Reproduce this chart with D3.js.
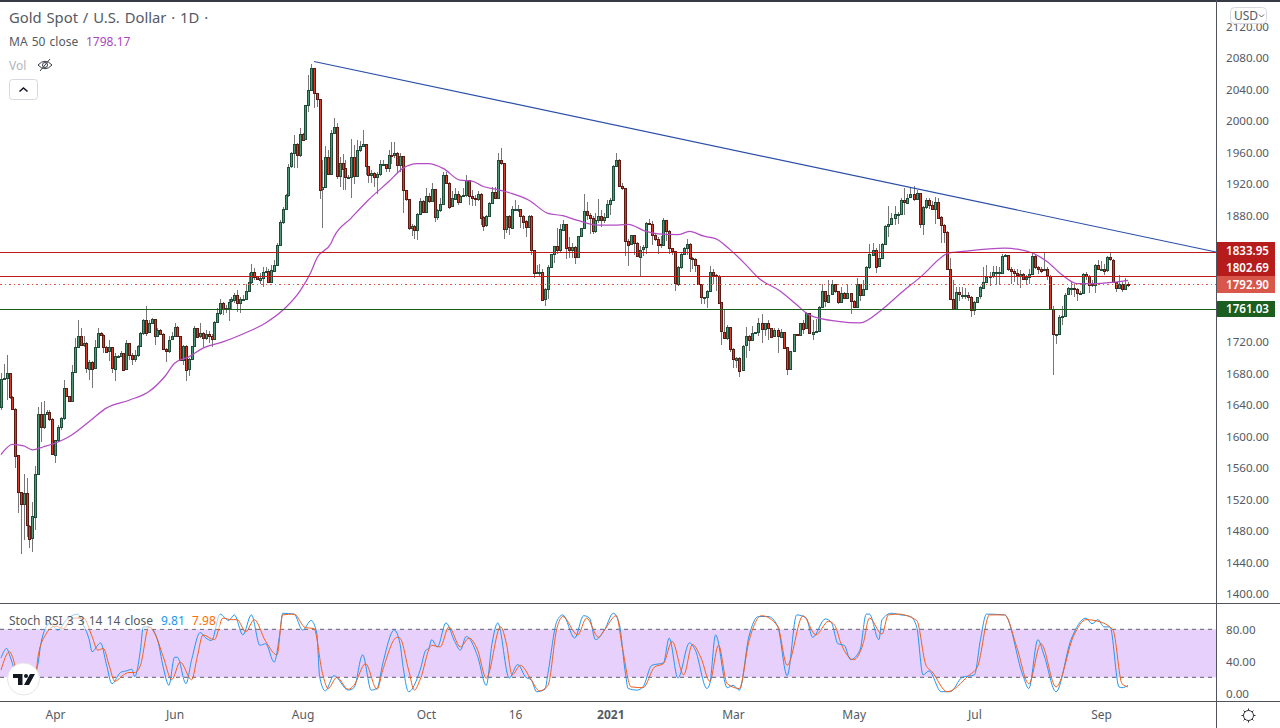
<!DOCTYPE html>
<html>
<head>
<meta charset="utf-8">
<title>Gold Spot / U.S. Dollar</title>
<script src="https://cdn.jsdelivr.net/npm/d3@7"></script>
<style>
  html, body { margin: 0; padding: 0; background: #fff; }
  svg { display: block; font-family: "Noto Sans", sans-serif; }
</style>
</head>
<body>
<svg width="1280" height="728"></svg>
<script>
// daily candles; each open is the previous close
const firstOpen = 1637;
const closes = [
  1673,1674,1680,1650,1635,1576,1529,1514,1528,1487,
  1471,1499,1553,1629,1612,1629,1631,1622,1577,1596,
  1612,1623,1661,1651,1645,1682,1714,1728,1716,1718,
  1686,1695,1686,1713,1731,1729,1714,1708,1713,1686,
  1702,1702,1706,1685,1718,1703,1698,1703,1715,1731,
  1748,1732,1744,1749,1727,1735,1730,1711,1709,1723,
  1727,1739,1727,1697,1715,1685,1698,1715,1738,1727,
  1731,1725,1730,1727,1723,1745,1756,1769,1762,1763,
  1771,1774,1780,1770,1775,1775,1785,1796,1809,1803,
  1799,1801,1809,1810,1796,1811,1818,1843,
  1872,1888,1906,1942,1959,1971,1957,1984,1977,2020,2039,2067,2035,2028,1913,1916,1954,1933,
  1985,1992,1930,1947,1940,1929,1929,1954,1930,1963,
  1968,1971,1943,1932,1934,1929,1933,1946,1946,1941,
  1957,1956,1959,1944,1956,1913,1901,1864,1867,1862,
  1882,1899,1885,1905,1899,1914,1878,1887,1895,1932,
  1922,1892,1902,1908,1898,1905,1906,1925,1905,1903,
  1902,1908,1878,1867,1879,1896,1910,1903,1951,1947,
  1863,1879,1865,1889,1889,1889,1880,1873,1866,1880,
  1837,1808,1808,1809,1774,1787,1815,1831,1841,1836,
  1863,1870,1840,1836,1840,1827,1854,1864,1886,1881,
  1877,1860,1874,1879,1874,1878,1895,1900,1943,1951,
  1918,1915,1848,1843,1855,1845,1828,1837,1840,1871,
  1870,1856,1851,1844,1843,1875,1861,1839,1835,1794,
  1815,1832,1839,1844,1826,1825,1818,1794,1777,1777,
  1785,1809,1805,1804,1770,1733,1725,1739,1711,1698,
  1700,1684,1715,1727,1722,1731,1732,1744,1737,1744,
  1738,1727,1735,1727,1733,1713,1685,1708,1730,1729,
  1744,1737,1756,1731,1733,1734,1764,1784,1771,1780,
  1793,1784,1770,1782,1776,1782,1772,1764,1793,1779,
  1787,1815,1831,1837,1816,1826,1844,1867,1870,1877,
  1882,1882,1900,1897,1903,1907,1901,1909,1870,1891,
  1900,1894,1889,1898,1878,1868,
  1859,1812,1774,1761,1783,1780,1780,1780,1777,1761,
  1771,1777,1789,1796,1802,1803,1808,1808,1808,1829,
  1830,1812,1810,1807,1804,1806,1800,1802,1806,1829,
  1815,1813,1811,1812,1804,1762,1730,1730,1752,1753,
  1780,1788,1788,1787,1782,1782,1806,1804,1792,1793,
  1818,1813,1813,1810,1827,1824,1796,1789,1794,1788,
  1794,1793
];
const highs = [
  1680,1692,1703,1680,1651,1636,1575,1530,1553,1547,
  1488,1517,1562,1638,1644,1645,1634,1634,1623,1596,
  1615,1625,1672,1661,1651,1691,1725,1748,1738,1727,
  1720,1697,1696,1722,1738,1732,1730,1715,1722,1714,
  1706,1703,1708,1706,1723,1718,1706,1710,1716,1732,
  1749,1766,1748,1750,1749,1738,1736,1731,1712,1727,
  1732,1744,1740,1727,1716,1716,1699,1715,1740,1738,
  1744,1732,1735,1734,1730,1746,1763,1775,1770,1767,
  1775,1777,1782,1786,1777,1779,1794,1807,1819,1814,
  1804,1807,1815,1815,1812,1818,1824,1845,
  1875,1891,1908,1946,1961,1982,1972,1991,1985,2020,2058,2073,2067,2035,2028,1951,1968,1963,
  1989,2004,1997,1955,1958,1951,1932,1977,1970,1976,
  1975,1989,1971,1943,1938,1935,1936,1951,1951,1946,
  1963,1974,1974,1961,1960,1956,1913,1901,1870,1868,
  1883,1902,1900,1915,1909,1921,1914,1889,1902,1935,
  1935,1923,1911,1915,1911,1906,1915,1932,1925,1913,
  1906,1911,1909,1879,1881,1897,1917,1917,1960,1966,
  1947,1880,1881,1892,1900,1894,1889,1881,1875,1881,
  1881,1837,1818,1819,1813,1788,1818,1832,1842,1864,
  1870,1875,1870,1853,1845,1841,1854,1865,1908,1898,
  1883,1880,1883,1901,1887,1883,1900,1902,1944,1959,
  1952,1921,1915,1851,1856,1855,1847,1841,1843,1872,
  1876,1873,1858,1853,1854,1877,1873,1862,1839,1835,
  1816,1833,1840,1851,1845,1827,1826,1817,1794,1777,
  1786,1816,1813,1806,1805,1770,1760,1741,1739,1712,
  1701,1701,1716,1739,1729,1740,1733,1750,1755,1744,
  1748,1737,1737,1737,1736,1733,1714,1709,1730,1730,
  1744,1748,1758,1756,1748,1749,1766,1794,1784,1799,
  1799,1793,1784,1790,1783,1792,1782,1773,1801,1793,
  1799,1816,1844,1846,1839,1844,1845,1868,1892,1883,
  1892,1885,1902,1915,1908,1915,1918,1913,1909,1892,
  1902,1902,1899,1904,1902,1879,
  1870,1860,1826,1799,1790,1790,1790,1788,1783,1778,
  1772,1777,1791,1815,1817,1809,1816,1816,1815,1832,
  1832,1830,1815,1813,1812,1811,1807,1805,1812,1833,
  1830,1816,1815,1833,1815,1805,1766,1730,1754,1765,
  1782,1790,1796,1794,1788,1784,1807,1808,1805,1799,
  1819,1824,1822,1819,1829,1833,1825,1796,1805,1796,
  1801,1796
];
const lows = [
  1634,1672,1646,1647,1633,1560,1503,1451,1469,1473,
  1458,1454,1481,1552,1593,1610,1627,1620,1577,1567,
  1593,1608,1621,1650,1644,1644,1682,1712,1715,1714,
  1680,1672,1661,1686,1712,1727,1706,1708,1696,1680,
  1670,1701,1701,1684,1685,1697,1691,1694,1701,1714,
  1729,1727,1731,1743,1716,1726,1729,1710,1694,1706,
  1723,1726,1726,1696,1691,1670,1677,1697,1714,1725,
  1725,1714,1722,1718,1714,1722,1744,1754,1754,1756,
  1747,1760,1769,1758,1757,1773,1774,1784,1794,1799,
  1798,1794,1790,1809,1795,1796,1810,1816,
  1864,1870,1887,1904,1940,1940,1940,1955,1976,1977,2012,2039,2016,2018,1901,1864,1915,1932,
  1944,1984,1927,1916,1913,1912,1927,1902,1920,1929,
  1961,1968,1932,1921,1922,1917,1908,1930,1944,1936,
  1936,1946,1953,1934,1936,1883,1899,1862,1854,1851,
  1849,1881,1883,1884,1896,1898,1872,1875,1885,1894,
  1921,1889,1891,1901,1894,1897,1904,1904,1894,1892,
  1892,1899,1868,1860,1866,1878,1895,1902,1902,1944,
  1851,1858,1856,1864,1887,1885,1865,1863,1853,1864,
  1830,1801,1807,1802,1773,1765,1775,1815,1820,1831,
  1833,1862,1825,1826,1826,1819,1826,1853,1863,1875,
  1857,1857,1858,1871,1866,1871,1877,1881,1899,1942,
  1916,1913,1829,1816,1843,1830,1828,1804,1829,1832,
  1868,1843,1848,1832,1839,1842,1848,1832,1830,1785,
  1791,1813,1830,1830,1809,1812,1809,1792,1768,1768,
  1763,1784,1794,1784,1768,1716,1725,1722,1707,1687,
  1687,1676,1684,1699,1708,1722,1730,1727,1719,1727,
  1722,1726,1726,1706,1726,1712,1678,1684,1708,1728,
  1728,1730,1736,1730,1723,1732,1734,1763,1764,1770,
  1780,1782,1768,1770,1774,1775,1755,1763,1764,1772,
  1778,1786,1813,1830,1807,1815,1825,1843,1853,1868,
  1868,1870,1881,1881,1896,1902,1899,1900,1865,1856,
  1889,1889,1888,1870,1877,1845,
  1845,1811,1773,1761,1761,1772,1774,1774,1772,1751,
  1754,1770,1775,1788,1796,1791,1801,1792,1793,1807,
  1827,1810,1794,1796,1792,1788,1798,1794,1793,1805,
  1812,1806,1807,1810,1799,1761,1678,1717,1729,1742,
  1751,1780,1780,1777,1772,1780,1781,1799,1782,1790,
  1782,1811,1811,1805,1809,1822,1795,1783,1787,1783,
  1786,1789
];

// moving average, read at its bends
const maBars = [0,4,8,11,15,20,24,31,37,45,52,58,61,66,71,78,85,93,99,105,109,111,116,117,123,129,136,141,146,150,155,161,165,169,174,179,185,192,197,202,209,214,219,225,229,236,240,245,249,254,259,263,270,275,279,288,295,302,308,315,321,323,329,342,347,351,356,361,366,372,383];
const maValues = [1577,1590,1588,1583,1587,1593,1600,1619,1636,1646,1657,1678,1693,1701,1712,1720,1730,1744,1760,1784,1809,1826,1845,1853,1877,1900,1923,1940,1946,1946,1940,1925,1924,1917,1913,1908,1900,1883,1880,1874,1868,1868,1869,1860,1857,1856,1860,1854,1851,1837,1818,1801,1784,1767,1754,1746,1744,1761,1782,1805,1827,1832,1835,1839,1837,1833,1822,1805,1794,1794,1798];

// stoch rsi lines, read at their bends
const kBars = [0,2,3,5,9,13,14,17,20,23,27,29,31,32,35,37,39,42,44,46,47,49,50,52,55,57,59,61,62,65,67,70,72,74,77,80,82,85,88,91,93,96,98,99,103,106,109,111,112,114,117,122,124,127,130,132,134,138,140,141,143,147,149,150,151,153,156,159,161,163,164,167,170,172,174,178,181,184,186,188,191,192,195,197,201,204,206,208,211,214,216,218,219,222,224,227,231,233,236,240,242,246,247,249,253,255,257,260,263,266,269,272,275,278,280,284,286,288,290,292,295,297,298,301,302,305,308,311,313,315,317,321,324,328,332,334,336,342,348,350,353,355,359,364,369,371,373,375,377,380,381,383];
const kValues = [44,56,48,27,8,37,62,87,79,92,99,85,67,52,63,37,12,26,28,30,21,54,83,83,67,33,10,45,45,12,42,76,69,66,99,91,98,73,98,60,62,39,75,100,99,79,91,75,21,3,22,4,7,48,4,6,37,79,62,35,2,29,54,56,67,58,88,65,54,71,69,46,10,62,88,19,36,20,17,2,5,25,90,98,69,97,94,67,79,100,87,27,6,4,8,35,38,69,19,63,54,6,12,73,7,10,4,71,96,96,84,22,98,94,70,93,88,62,60,42,54,99,99,67,92,100,98,96,83,23,28,2,2,20,23,67,99,98,23,6,67,48,2,67,94,87,92,83,83,8,7,9.81];
const dBars = [0,3,4,6,12,13,16,19,22,25,29,32,34,36,38,40,43,45,47,49,52,54,57,60,63,67,69,71,75,78,81,83,86,89,93,97,99,103,107,110,113,115,118,122,124,128,132,134,139,140,143,145,147,151,154,157,161,164,167,170,175,177,179,182,186,189,192,195,197,202,205,209,211,215,217,220,224,228,231,234,238,241,244,247,250,253,257,260,264,269,272,277,281,285,287,289,293,296,298,302,304,307,313,316,318,323,330,333,337,342,346,350,354,359,365,369,373,378,381,383];
const dValues = [29,52,46,23,15,46,75,84,81,94,94,71,54,56,35,15,23,26,26,35,83,75,46,17,39,17,46,73,67,94,92,92,77,92,65,48,98,99,82,81,25,6,20,5,10,37,5,29,70,69,29,4,17,60,58,83,58,69,54,19,83,62,23,35,17,3,10,81,96,73,94,70,79,97,58,8,7,33,37,65,23,61,44,15,60,12,6,65,97,84,35,97,73,90,85,62,42,62,94,74,98,99,91,35,27,2,22,33,98,98,58,12,62,8,73,92,90,79,12,7.98];

// levels, labels and ticks
const trendBars = [110, 412];
const trendPrices = [2075.6, 1834];
const levelPrices = [1833.95, 1802.69, 1792.90, 1761.03];
const priceTicks = [2120,2080,2040,2000,1960,1920,1880,1720,1680,1640,1600,1560,1520,1480,1440,1400];
const stochTicks = [80, 40, 0];
const timeBars = [19,61,106,149,180,213,255,293,332,374];
const timeLabels = ['Apr','Jun','Aug','Oct','16','2021','Mar','May','Jul','Sep'];

const svg = d3.select('svg');
const width = +svg.attr('width');
const height = +svg.attr('height');
const plotRight = 1216;

const xScale = d3.scaleLinear()
  .domain([0,97,116,180,190,225,255,282,315,358,383,412])
  .range([1,277,331,515,542,646,733,819,923,1053,1128,plotRight]);
const yScale = d3.scaleLinear().domain([2080, 1400]).range([58, 594.2]);
const stochScale = d3.scaleLinear().domain([0, 100]).range([693.3, 613.3]);

const inkGrey = '#555a63';
const frame = '#50535e';
const green = { fill: '#4d9a74', edge: '#1d4d38' };
const red = { fill: '#dd3a29', edge: '#5c1a12' };

svg.append('rect').attr('width', width).attr('height', height).attr('fill', '#fff');

// ---- stoch pane ----
const band = stochScale(80);
svg.append('rect')
  .attr('x', 0).attr('y', band)
  .attr('width', plotRight).attr('height', stochScale(20) - band)
  .attr('fill', '#e8d0fc');

svg.selectAll('.stochLevel').data([80, 20]).enter().append('line')
  .attr('x1', 0).attr('x2', plotRight)
  .attr('y1', d => stochScale(d)).attr('y2', d => stochScale(d))
  .attr('stroke', '#5d606b').attr('stroke-dasharray', '4 4');

const stochLine = d3.line()
  .x(d => xScale(d[0])).y(d => stochScale(d[1]))
  .curve(d3.curveMonotoneX);

svg.append('path').datum(d3.zip(kBars, kValues))
  .attr('d', stochLine).attr('fill', 'none').attr('stroke', '#2196f3').attr('stroke-width', 1);
svg.append('path').datum(d3.zip(dBars, dValues))
  .attr('d', stochLine).attr('fill', 'none').attr('stroke', '#f4601c').attr('stroke-width', 1);

svg.append('rect').attr('x', 5).attr('y', 612).attr('width', 215).attr('height', 17)
  .attr('fill', '#fff').attr('opacity', 0.55);
const stochLegend = svg.append('text').attr('x', 9).attr('y', 625).attr('font-size', 12).attr('fill', inkGrey);
stochLegend.append('tspan').attr('word-spacing', 1).text('Stoch RSI 3 3 14 14 close');
stochLegend.append('tspan').attr('x', 161).attr('fill', '#2196f3').text('9.81');
stochLegend.append('tspan').attr('x', 192).attr('fill', '#ff6d00').text('7.98');

// logo
const logo = svg.append('g');
logo.append('circle').attr('cx', 23.5).attr('cy', 679).attr('r', 16)
  .attr('fill', '#fff').attr('stroke', '#e4e6ea');
logo.append('path').attr('d', 'M13 674h9.5v11h-4.5v-7h-5z M30 674h5l-6 11h-5z').attr('fill', '#131722');
logo.append('circle').attr('cx', 26).attr('cy', 676).attr('r', 2).attr('fill', '#131722');

// ---- price pane ----
const candles = closes.map((c, i) => ({
  i, close: c, high: highs[i], low: lows[i],
  open: i ? closes[i - 1] : firstOpen
}));
const barX = d => Math.round(xScale(d.i));

svg.append('g').selectAll('line').data(candles).enter().append('line')
  .attr('x1', d => barX(d) + 0.5).attr('x2', d => barX(d) + 0.5)
  .attr('y1', d => yScale(d.high)).attr('y2', d => yScale(d.low))
  .attr('stroke', '#777').attr('shape-rendering', 'crispEdges');

svg.append('g').selectAll('rect').data(candles).enter().append('rect')
  .attr('x', d => barX(d) - 0.5)
  .attr('y', d => Math.round(yScale(Math.max(d.open, d.close))) + 0.5)
  .attr('width', 2)
  .attr('height', d => Math.max(1, Math.round(Math.abs(yScale(d.open) - yScale(d.close)))))
  .attr('fill', d => d.close >= d.open ? green.fill : red.fill)
  .attr('stroke', d => d.close >= d.open ? green.edge : red.edge)
  .attr('shape-rendering', 'crispEdges');

const maLine = d3.line()
  .x(d => xScale(d[0])).y(d => yScale(d[1]))
  .curve(d3.curveMonotoneX);
svg.append('path').datum(d3.zip(maBars, maValues))
  .attr('d', maLine).attr('fill', 'none').attr('stroke', '#b24cc4').attr('stroke-width', 1.25);

svg.append('line')
  .attr('x1', xScale(trendBars[0])).attr('y1', yScale(trendPrices[0]))
  .attr('x2', xScale(trendBars[1])).attr('y2', yScale(trendPrices[1]))
  .attr('stroke', '#2a4fa8').attr('stroke-width', 1.2);

const levelColors = ['#c01a1a', '#c01a1a', '#e0533f', '#1b5e20'];
svg.selectAll('.level').data(levelPrices).enter().append('line')
  .attr('x1', 0).attr('x2', plotRight)
  .attr('y1', d => Math.floor(yScale(d)) + 0.5).attr('y2', d => Math.floor(yScale(d)) + 0.5)
  .attr('stroke', (d, i) => levelColors[i])
  .attr('stroke-dasharray', (d, i) => i === 2 ? '1.5 3' : null)
  .attr('stroke-width', 1)
  .attr('shape-rendering', 'crispEdges');

// ---- axes ----
const priceAxis = d3.axisRight(yScale).tickValues(priceTicks).tickSize(0).tickPadding(0).tickFormat(d3.format('.2f'));
const stochAxis = d3.axisRight(stochScale).tickValues(stochTicks).tickSize(0).tickPadding(0).tickFormat(d3.format('.2f'));
const timeAxis = d3.axisBottom(xScale).tickValues(timeBars).tickSize(0).tickPadding(0)
  .tickFormat((d, i) => timeLabels[i]);

[svg.append('g').attr('transform', `translate(1226,0)`).call(priceAxis),
 svg.append('g').attr('transform', `translate(1226,0)`).call(stochAxis)].forEach(g => {
  g.select('.domain').remove();
  g.selectAll('text').attr('font-size', 11.6).attr('font-family', '"Noto Sans", sans-serif').attr('fill', inkGrey);
});
const timeG = svg.append('g').attr('transform', 'translate(0,710)').call(timeAxis);
timeG.select('.domain').remove();
timeG.selectAll('text').attr('font-size', 12).attr('font-family', '"Noto Sans", sans-serif')
  .attr('fill', inkGrey).attr('font-weight', d => d === 213 ? 700 : 400);

// price labels on the scale
const labelFill = ['#b71c1c', '#b71c1c', '#d9574a', '#1b5e20'];
const labelTop = [242, 260, 276, 301];
const labelH = [18, 16, 17, 16];
levelPrices.forEach((p, i) => {
  svg.append('rect').attr('x', 1217).attr('y', labelTop[i]).attr('width', 58).attr('height', labelH[i])
    .attr('fill', labelFill[i]);
  svg.append('text').attr('x', 1226).attr('y', labelTop[i] + labelH[i] / 2 + 4.3)
    .attr('font-size', 11.6).attr('font-weight', 600).attr('fill', '#fff').text(p.toFixed(2));
});

// frame
svg.append('rect').attr('x', 0).attr('y', 0).attr('width', width).attr('height', 2).attr('fill', '#363a45');
[603.5, 701.5].forEach(y => svg.append('line').attr('x1', 0).attr('x2', width).attr('y1', y).attr('y2', y).attr('stroke', frame));
svg.append('line').attr('x1', plotRight + 0.5).attr('x2', plotRight + 0.5).attr('y1', 0).attr('y2', height).attr('stroke', frame);

// ---- header ----
svg.append('text').attr('x', 9).attr('y', 23).attr('font-size', 14.8).attr('word-spacing', 1).attr('fill', inkGrey)
  .text('Gold Spot / U.S. Dollar · 1D ·');
const maLegend = svg.append('text').attr('x', 9).attr('y', 46).attr('font-size', 12).attr('fill', inkGrey);
maLegend.append('tspan').attr('word-spacing', 1).text('MA 50 close');
maLegend.append('tspan').attr('x', 86).attr('fill', '#ab47bc').text('1798.17');
svg.append('text').attr('x', 9).attr('y', 70).attr('font-size', 12).attr('fill', '#b2b5be').text('Vol');

const eye = svg.append('g').attr('transform', 'translate(45,65)').attr('fill', 'none').attr('stroke', '#3a3d45');
eye.append('path').attr('d', 'M-7 0Q0 -7.5 7 0Q0 7.5 -7 0Z');
eye.append('circle').attr('r', 2.5);
eye.append('line').attr('x1', -5).attr('y1', 6).attr('x2', 5).attr('y2', -6);

svg.append('rect').attr('x', 9.5).attr('y', 79.5).attr('width', 28).attr('height', 20).attr('rx', 3)
  .attr('fill', '#fff').attr('stroke', '#d6d8e0');
svg.append('path').attr('d', 'M19.5 91.5l4 -3.5l4 3.5').attr('fill', 'none').attr('stroke', '#131722').attr('stroke-width', 1.6);

// currency button
svg.append('rect').attr('x', 1230.5).attr('y', 7.5).attr('width', 36).attr('height', 16).attr('rx', 4)
  .attr('fill', '#fff').attr('stroke', '#d6d8e0');
svg.append('text').attr('x', 1234).attr('y', 20).attr('font-size', 12).attr('fill', inkGrey).text('USD');
svg.append('path').attr('d', 'M1259 14.5l2.5 2.5l2.5 -2.5').attr('fill', 'none').attr('stroke', inkGrey);

// settings gear
const gear = svg.append('g').attr('transform', 'translate(1248.5,715.5)').attr('stroke', '#2a2e39').attr('fill', 'none');
gear.append('circle').attr('r', 5);
d3.range(8).forEach(k => {
  const a = k * Math.PI / 4;
  gear.append('line').attr('x1', 5 * Math.cos(a)).attr('y1', 5 * Math.sin(a))
    .attr('x2', 7 * Math.cos(a)).attr('y2', 7 * Math.sin(a));
});
</script>
</body>
</html>
